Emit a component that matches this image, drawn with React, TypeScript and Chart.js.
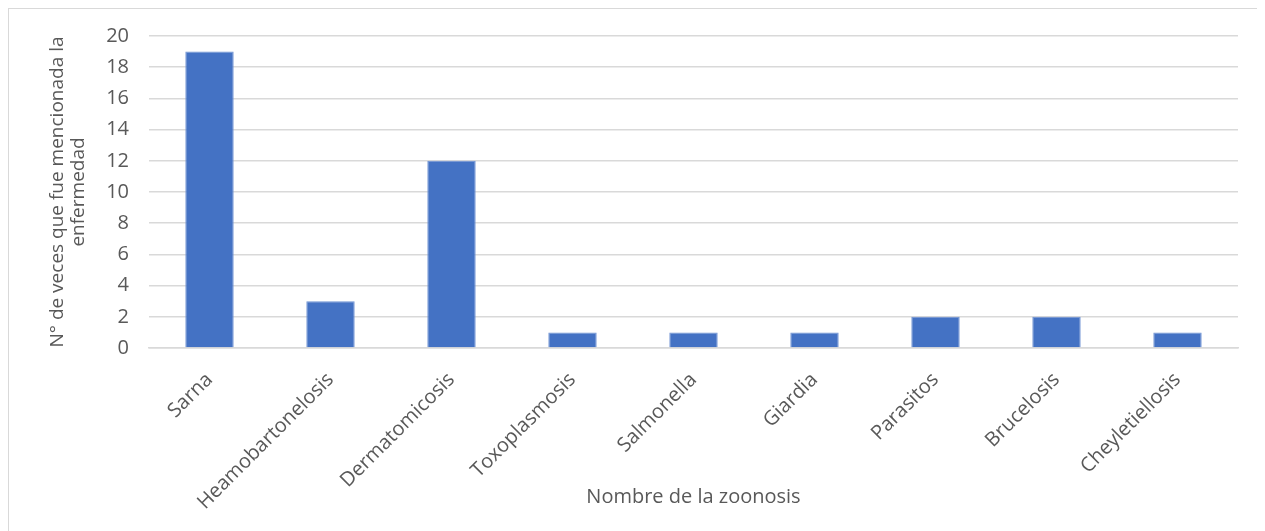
import React, { useEffect, useRef } from "react";
import { Chart, registerables } from "chart.js";

Chart.register(...registerables);

const categories = [
  "Sarna",
  "Heamobartonelosis",
  "Dermatomicosis",
  "Toxoplasmosis",
  "Salmonella",
  "Giardia",
  "Parasitos",
  "Brucelosis",
  "Cheyletiellosis",
];
const mentions = [19, 3, 12, 1, 1, 1, 2, 2, 1];
const yTitle = ["N° de veces que fue mencionada la", "enfermedad"];
const xTitle = "Nombre de la zoonosis";

const FONT = "'Open Sans', sans-serif";
const TEXT = "#595959";

export default function App() {
  const ref = useRef<HTMLCanvasElement | null>(null);

  useEffect(() => {
    document.body.style.overflow = "hidden";
    const canvas = ref.current;
    if (!canvas) return;
    const chart = new Chart(canvas, {
      type: "bar",
      data: {
        labels: categories,
        datasets: [
          {
            data: mentions,
            backgroundColor: "#4472c4",
            borderColor: "#6f93d3",
            borderWidth: 1,
            barPercentage: 0.4,
            categoryPercentage: 1,
          },
        ],
      },
      options: {
        responsive: false,
        animation: false,
        layout: { padding: { left: 0, right: 39, top: 27, bottom: 0 } },
        plugins: { legend: { display: false }, tooltip: { enabled: false } },
        scales: {
          x: {
            grid: { display: false, drawTicks: false },
            border: { color: "#d9d9d9", width: 1.5 },
            ticks: {
              color: TEXT,
              font: { family: FONT, size: 20 },
              maxRotation: 45,
              minRotation: 45,
              padding: 20,
              autoSkip: false,
            },
            title: {
              display: true,
              text: xTitle,
              color: TEXT,
              font: { family: FONT, size: 20 },
              padding: { top: 0, bottom: 28 },
            },
            afterFit: (s: any) => {
              s.height = 189;
              s.paddingLeft = 0;
              s.paddingRight = 0;
            },
          },
          y: {
            min: 0,
            max: 20,
            ticks: {
              stepSize: 2,
              color: TEXT,
              font: { family: FONT, size: 20 },
              padding: 20,
            },
            grid: { color: "#d9d9d9", lineWidth: 1.5, drawTicks: false },
            border: { display: false },
            title: {
              display: true,
              text: yTitle,
              color: TEXT,
              font: { family: FONT, size: 19, lineHeight: 1.1 },
              padding: { top: 38.5, bottom: 0 },
            },
            afterFit: (s: any) => {
              s.width = 140;
              s.paddingTop = 0;
              s.paddingBottom = 0;
            },
          },
        },
      },
    });
    return () => chart.destroy();
  }, []);

  return (
    <div
      style={{
        width: 1270,
        height: 530,
        border: "1px solid #d9d9d9",
        background: "#fff",
      }}
    >
      <canvas ref={ref} width={1268} height={528} style={{ display: "block" }} />
    </div>
  );
}
